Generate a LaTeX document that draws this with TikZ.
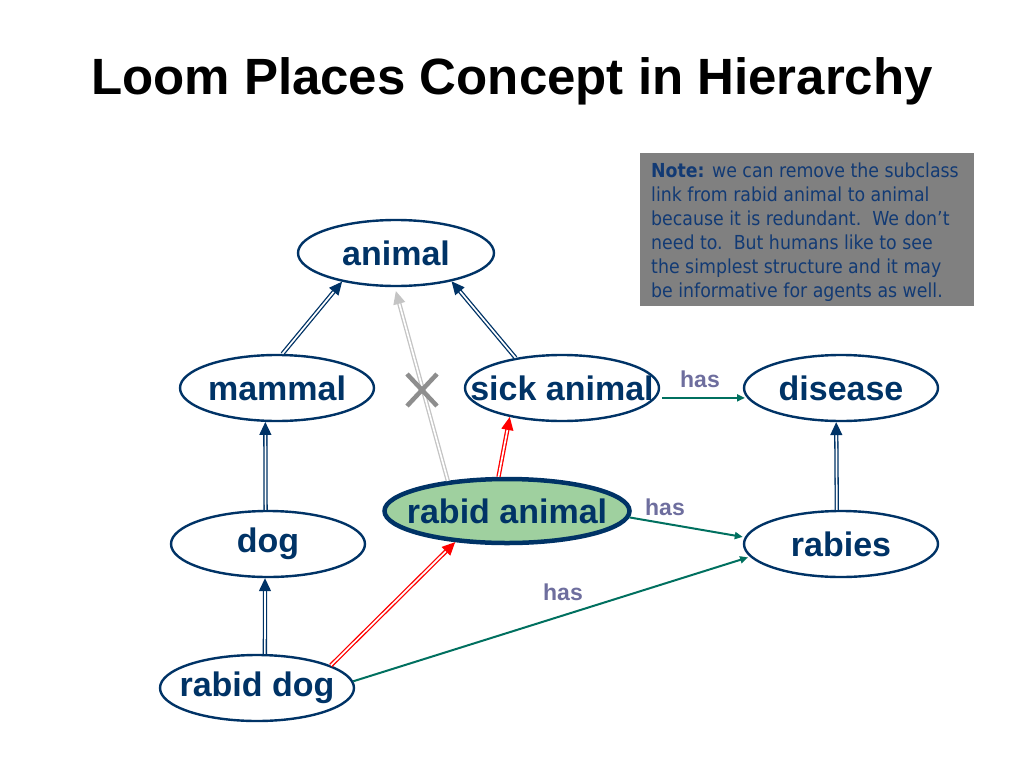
\documentclass[tikz,border=0pt]{standalone}
\usepackage{fontspec}
\setmainfont{Liberation Sans}
\newfontfamily\notefont{DejaVu Sans Condensed}
\usetikzlibrary{arrows.meta,shapes.geometric,calc}
\definecolor{navy}{HTML}{003366}
\definecolor{tealc}{HTML}{00705F}
\definecolor{haslbl}{HTML}{6E6E9E}
\definecolor{greenfill}{HTML}{9FD09F}
\definecolor{notegray}{HTML}{808080}
\definecolor{notetext}{HTML}{123A74}
\definecolor{lightg}{HTML}{C4C4C4}
\definecolor{xgray}{HTML}{8E8E8E}
\tikzset{
  concept/.style={ellipse, draw=navy, line width=2.4pt, fill=white, inner sep=0pt,
    minimum width=194pt, minimum height=66pt, text=navy,
    font=\fontsize{34}{38}\selectfont\bfseries},
  subarrow/.style={draw=navy, line width=1.3pt, double=white, double distance=1.7pt,
    -{Triangle[length=13pt,width=12pt]}},
  redarrow/.style={subarrow, draw=red},
  grayarrow/.style={subarrow, draw=lightg},
  hasarrow/.style={draw=tealc, line width=2pt, -{Triangle[length=8pt,width=7pt]}},
  haslabel/.style={text=haslbl, font=\fontsize{23}{26}\selectfont\bfseries, inner sep=0pt}
}
\begin{document}
\begin{tikzpicture}[x=1pt,y=-1pt]
\useasboundingbox (0,0) rectangle (1024,768);
\node[font=\fontsize{51}{56}\selectfont\bfseries, inner sep=0pt] (title) at (512,81) {Loom Places Concept in Hierarchy};

\node[fill=notegray, minimum width=334pt, minimum height=153pt, inner sep=0pt] (notebox) at (807,229.5) {};
\node[anchor=north west, inner sep=0pt, text=notetext, align=left,
  font=\notefont\fontsize{19.3}{24}\selectfont] (note) at (651,163)
  {\textbf{Note:} we can remove the subclass\\link from rabid animal to animal\\because it is redundant.\ \ We don’t\\need to.\ \ But humans like to see\\the simplest structure and it may\\be informative for agents as well.};

\node[concept, minimum width=196pt] (animal) at (396,253) {\makebox[0pt]{animal}};
\node[concept] (mammal) at (277,388) {\makebox[0pt]{mammal}};
\node[concept] (sick) at (562,388) {\makebox[0pt]{sick animal}};
\node[concept] (disease) at (841,388) {\makebox[0pt]{disease}};
\node[concept, fill=greenfill, line width=4.5pt, minimum width=245pt, minimum height=64pt] (rabidanimal) at (507,511) {\makebox[0pt]{rabid animal}};
\node[concept] (dog) at (268,544) {\makebox[0pt]{dog}};
\node[concept] (rabies) at (841,544) {\makebox[0pt]{rabies}};
\node[concept] (rabiddog) at (257,688) {\makebox[0pt]{rabid dog}};

% subclass links
\draw[subarrow] (mammal.81) -- (animal.208);
\draw[subarrow] (sick.147) -- (animal.333);
\draw[grayarrow, shorten >=4pt] (rabidanimal.153) -- (animal.268);
\draw[redarrow] (rabidanimal.104) -- (sick.209);
\draw[subarrow] (dog.94) -- (mammal.251);
\draw[subarrow] (rabiddog.77) -- (dog.265);
\draw[redarrow] (rabiddog.17) -- (rabidanimal.211);
\draw[subarrow] (rabies.97) -- (disease.262);

% has links
\draw[hasarrow, shorten <=6pt, shorten >=2pt] (sick.354) -- (disease.186);
\draw[hasarrow, shorten >=2pt] (rabidanimal.357) -- (rabies.176);
\draw[hasarrow, shorten >=2pt] (rabiddog.4) -- (rabies.188);

\node[haslabel] (has1) at (700,379) {has};
\node[haslabel] (has2) at (665,507) {has};
\node[haslabel] (has3) at (563,592) {has};

% cross mark
\coordinate (xc) at (422,390);
\draw[xgray, line width=4.5pt] ($(xc)+(-15,-16)$) coordinate (xa) -- ($(xc)+(15,16)$) coordinate (xb);
\draw[xgray, line width=4.5pt] ($(xc)+(15,-16)$) coordinate (xd) -- ($(xc)+(-15,16)$) coordinate (xe);
\end{tikzpicture}
\end{document}
